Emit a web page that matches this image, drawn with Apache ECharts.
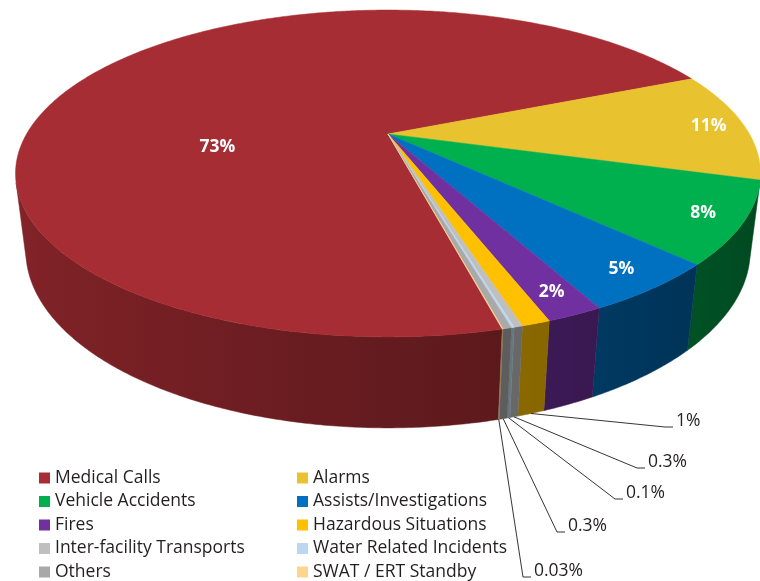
<!DOCTYPE html>
<html>
<head>
<meta charset="utf-8">
<script src="https://cdn.jsdelivr.net/npm/echarts@6/dist/echarts.min.js"></script>
<style>
html, body { margin: 0; padding: 0; background: #fff; }
#chart { width: 760px; height: 581px; }
</style>
</head>
<body>
<div id="chart"></div>
<script>
// call types (legend order) and their share in percent
const categories = ['Medical Calls', 'Alarms', 'Vehicle Accidents', 'Assists/Investigations', 'Fires',
  'Hazardous Situations', 'Inter-facility Transports', 'Water Related Incidents', 'Others', 'SWAT / ERT Standby'];
const shares = [73, 11, 8, 5, 2, 1, 0.3, 0.1, 0.3, 0.03];
const colors = ['#a62d33', '#e8c22f', '#00b04f', '#0070c0', '#7030a0',
  '#ffc000', '#bfbfbf', '#bdd7ee', '#a9a9a9', '#fdd58c'];

// where the callout labels of the thin slices sit (elbow of the leader line)
const calloutAt = { 5: [665, 427], 6: [637, 468], 7: [615, 499], 8: [557, 532], 9: [523, 577] };

// 3d view of the pie
const CX = 388, CY = 134;      // screen pos of the pie centre
const FOCAL = 1354, DIST = 3.746, TILT = 25.2 * Math.PI / 180;
const THICK = 0.235;           // height of the pie, in radii
const START = 166;             // first slice starts here (deg, clockwise from the back)

function project(phi, r, y) {
  const a = phi * Math.PI / 180;
  const x = r * Math.sin(a), z = -r * Math.cos(a);
  const c = Math.cos(TILT), s = Math.sin(TILT);
  const yc = y * c - z * s;
  const d = DIST - z * c - y * s;
  return [CX + FOCAL * x / d, CY - FOCAL * yc / d];
}

// side wall faces the viewer while cos(phi) < -1/(DIST*cos(tilt))
const visLim = Math.acos(-1 / (DIST * Math.cos(TILT))) * 180 / Math.PI;
const VIS0 = visLim, VIS1 = 360 - visLim;

const total = shares.reduce((a, b) => a + b, 0);
const spans = shares.map(v => v / total * 360);
const starts = [];
let acc = START;
spans.forEach(sp => { starts.push(acc); acc += sp; });

function shade(hex, f) {
  const n = parseInt(hex.slice(1), 16);
  const r = Math.round(((n >> 16) & 255) * f);
  const g = Math.round(((n >> 8) & 255) * f);
  const b = Math.round((n & 255) * f);
  return 'rgb(' + r + ',' + g + ',' + b + ')';
}
const light = phi => 0.6 - 0.2 * Math.sin(phi * Math.PI / 180);

function renderSlice(params, api) {
  const i = params.dataIndex;
  const a0 = starts[i] % 360;
  const a1 = a0 + spans[i];
  const col = colors[i];
  const kids = [];

  // top face
  const pts = [project(0, 0, 0)];
  const n = Math.max(2, Math.ceil((a1 - a0) / 0.5));
  for (let k = 0; k <= n; k++) pts.push(project(a0 + (a1 - a0) * k / n, 1, 0));
  kids.push({ type: 'polygon', z2: 10, shape: { points: pts },
    style: { fill: col, stroke: col, lineWidth: 0.5 } });

  // side wall, one shape with a left-to-right shading
  const lo = Math.max(a0, VIS0), hi = Math.min(a1, VIS1);
  if (hi > lo) {
    const m = Math.max(2, Math.ceil((hi - lo) / 0.5));
    const topEdge = [], botEdge = [];
    for (let k = 0; k <= m; k++) {
      const p = lo + (hi - lo) * k / m;
      topEdge.push(project(p, 1, 0));
      botEdge.push(project(p, 1, -THICK));
    }
    const xa = topEdge[0][0], xb = topEdge[m][0];
    const stops = [];
    const ns = 8;
    for (let k = 0; k <= ns; k++) {
      const p = lo + (hi - lo) * k / ns;
      const x = project(p, 1, 0)[0];
      const off = xa === xb ? k / ns : (x - Math.min(xa, xb)) / Math.abs(xb - xa);
      stops.push({ offset: Math.min(1, Math.max(0, off)), color: shade(col, light(p)) });
    }
    stops.sort((u, v) => u.offset - v.offset);
    const grad = new echarts.graphic.LinearGradient(Math.min(xa, xb), 0, Math.max(xa, xb), 0, stops, true);
    kids.push({ type: 'polygon', z2: 1,
      shape: { points: topEdge.concat(botEdge.reverse()) },
      style: { fill: grad, stroke: grad, lineWidth: 0.5 } });
  }

  const mid = a0 + spans[i] / 2;
  const txt = shares[i] + '%';
  if (calloutAt[i]) {
    const s = project(mid, 1, -THICK);
    const e = calloutAt[i];
    kids.push({ type: 'polyline', z2: 20,
      shape: { points: [s, e, [e[0] + 8, e[1]]] },
      style: { stroke: '#000', lineWidth: 0.8, fill: null } });
    kids.push({ type: 'text', z2: 20, x: e[0] + 11, y: e[1] - 6,
      style: { text: txt, fill: '#231f20', fontSize: 17.5, fontFamily: 'Open Sans',
        align: 'left', verticalAlign: 'middle' } });
  } else {
    // the big slice gets its label nearer the middle, like the original
    const pos = i === 0 ? project(260, 0.47, 0) : project(mid, 0.9, 0);
    kids.push({ type: 'text', z2: 20, x: pos[0], y: pos[1],
      style: { text: txt, fill: '#fff', fontSize: 17.5, fontWeight: 'bold', fontFamily: 'Open Sans',
        align: 'center', verticalAlign: 'middle' } });
  }
  return { type: 'group', children: kids };
}

const legendBase = {
  orient: 'vertical', top: 469, padding: 0, itemWidth: 11, itemHeight: 11, itemGap: 5.5,
  icon: 'rect', selectedMode: false,
  textStyle: { fontFamily: 'Open Sans', fontSize: 17.5, color: '#231f20', lineHeight: 18 }
};

const chart = echarts.init(document.getElementById('chart'));
chart.setOption({
  animation: false,
  legend: [
    Object.assign({}, legendBase, { left: 39, data: categories.filter((_, i) => i % 2 === 0) }),
    Object.assign({}, legendBase, { left: 297, data: categories.filter((_, i) => i % 2 === 1) })
  ],
  series: [
    {
      type: 'custom',
      coordinateSystem: 'none',
      renderItem: renderSlice,
      data: shares.map(v => [v])
    },
    {
      // only feeds the legend
      type: 'pie', name: 'legend', radius: [0, 0], center: [-50, -50], silent: true,
      label: { show: false }, labelLine: { show: false },
      itemStyle: { borderWidth: 0 },
      data: categories.map((c, i) => ({ name: c, value: shares[i], itemStyle: { color: colors[i] } }))
    }
  ]
});
</script>
</body>
</html>
